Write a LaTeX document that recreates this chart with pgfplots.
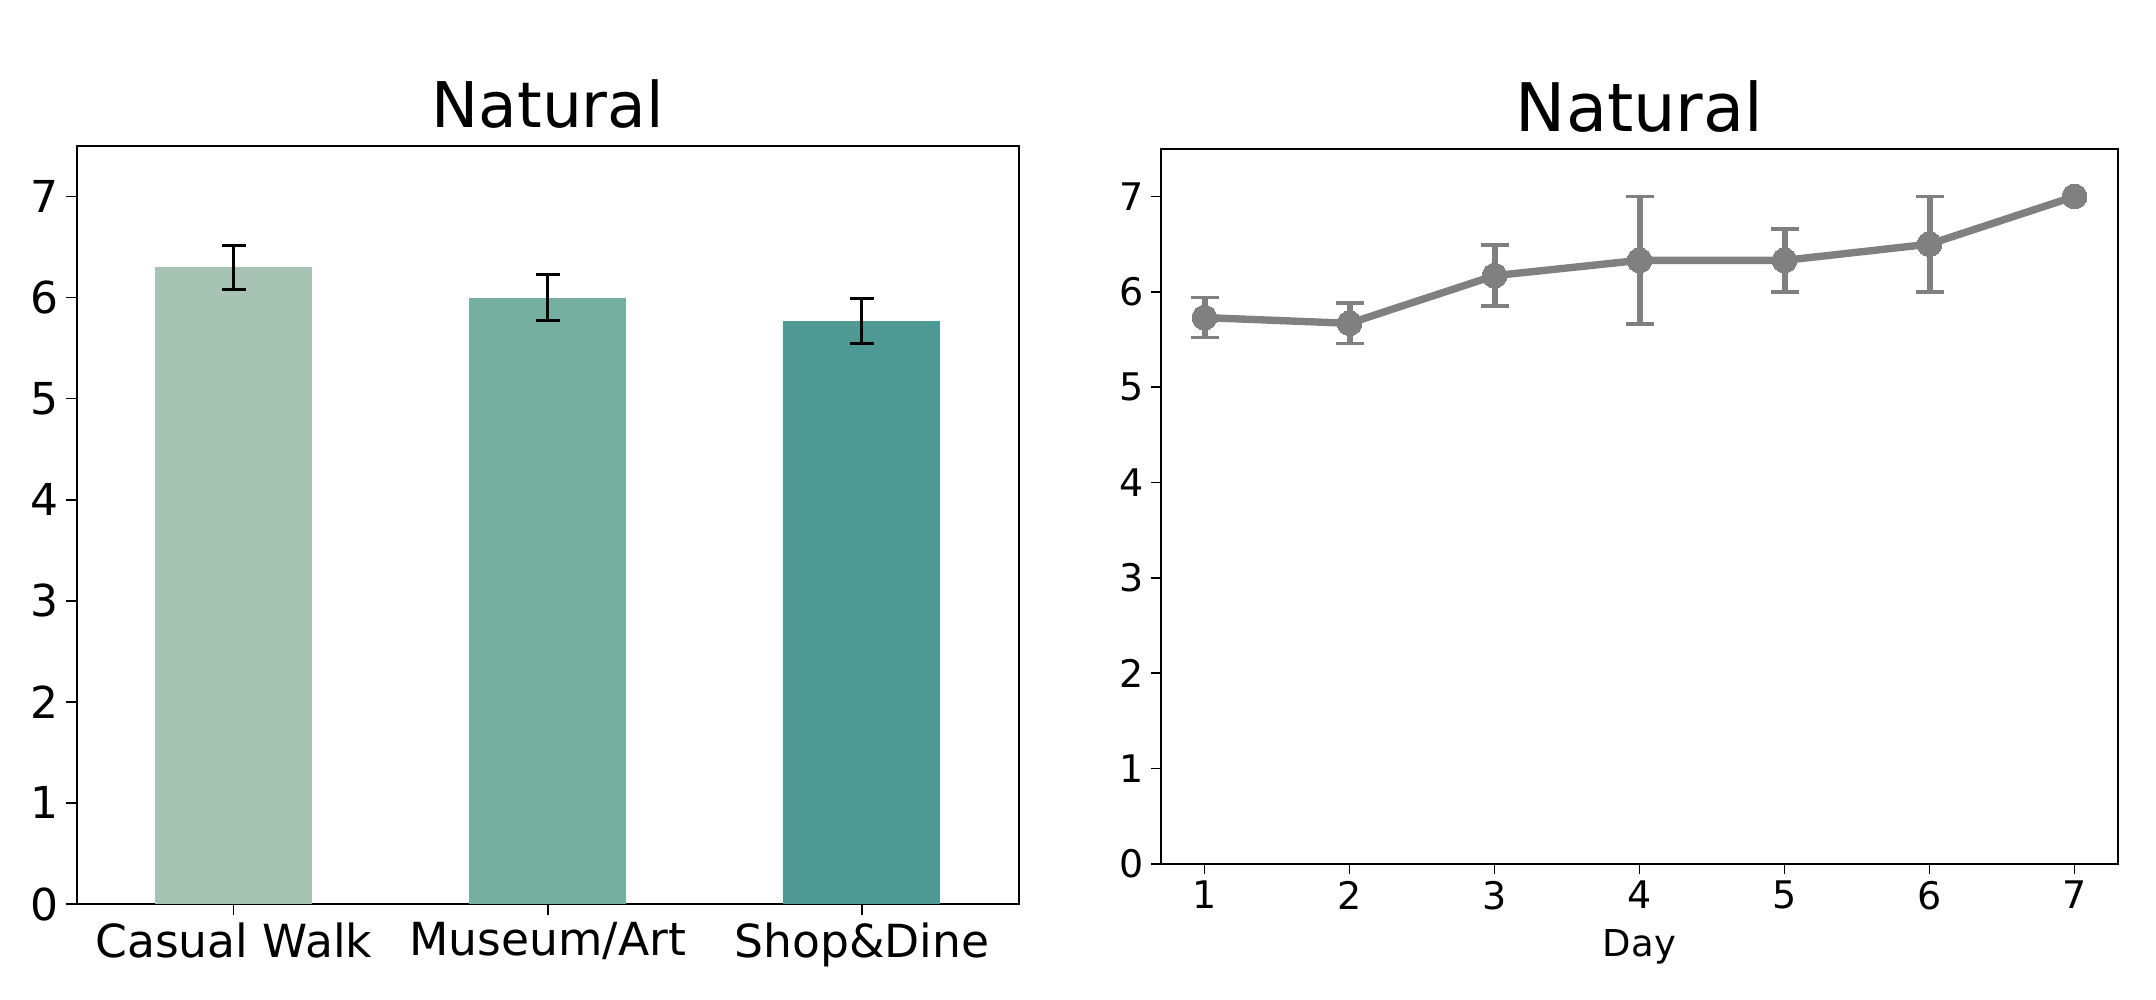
\documentclass[border=0pt]{standalone}
\usepackage{fontspec}
\setmainfont{DejaVu Sans}
\usepackage{pgfplots}
\pgfplotsset{compat=1.18}
\definecolor{c1}{HTML}{A7C3B4}
\definecolor{c2}{HTML}{74AF9F}
\definecolor{c3}{HTML}{4F9994}
\definecolor{lg}{HTML}{808080}
\begin{document}
\begin{tikzpicture}
\useasboundingbox (0,0) rectangle (1078pt,500pt);
\begin{axis}[
  at={(38.3pt,48pt)}, anchor=south west,
  scale only axis, width=471.2pt, height=379pt,
  xmin=-0.5, xmax=2.5, ymin=0, ymax=7.5,
  xtick={0,1,2}, xticklabels={Casual Walk, Museum/Art, Shop\&Dine},
  ytick={0,1,2,3,4,5,6,7},
  xtick pos=left, ytick pos=left,
  tick align=outside, major tick length=5.3pt,
  tick style={black, line width=0.8pt},
  axis line style={line width=1pt},
  ticklabel style={font=\fontsize{22}{26}\selectfont},
  xticklabel style={font=\fontsize{22.8}{27}\selectfont, yshift=-0.5pt},
  /pgf/number format/assume math mode=true,
  title={Natural},
  title style={font=\fontsize{31.5}{36}\selectfont, at={(0.5,1)}, anchor=base, yshift=3pt},
]
\addplot[ybar, bar width=0.5, fill=c1, draw=none, bar shift=0pt,
  error bars/.cd, y dir=both, y explicit,
  error bar style={black, line width=1.5pt},
  error mark options={black, line width=1.5pt, mark size=6pt, rotate=90}]
  coordinates {(0,6.30) +- (0,0.22)};
\addplot[ybar, bar width=0.5, fill=c2, draw=none, bar shift=0pt,
  error bars/.cd, y dir=both, y explicit,
  error bar style={black, line width=1.5pt},
  error mark options={black, line width=1.5pt, mark size=6pt, rotate=90}]
  coordinates {(1,6.00) +- (0,0.23)};
\addplot[ybar, bar width=0.5, fill=c3, draw=none, bar shift=0pt,
  error bars/.cd, y dir=both, y explicit,
  error bar style={black, line width=1.5pt},
  error mark options={black, line width=1.5pt, mark size=6pt, rotate=90}]
  coordinates {(2,5.77) +- (0,0.22)};
\end{axis}
\begin{axis}[
  at={(580.5pt,68pt)}, anchor=south west,
  scale only axis, width=478.5pt, height=357.6pt,
  xmin=0.7, xmax=7.3, ymin=0, ymax=7.5,
  xtick={1,2,3,4,5,6,7},
  ytick={0,1,2,3,4,5,6,7},
  xtick pos=left, ytick pos=left,
  tick align=outside, major tick length=5pt,
  tick style={black, line width=0.8pt},
  axis line style={line width=1pt},
  ticklabel style={font=\fontsize{19}{23}\selectfont},
  /pgf/number format/assume math mode=true,
  xlabel={Day},
  xlabel style={font=\fontsize{18.5}{22}\selectfont, at={(0.5,0)}, anchor=center, yshift=-41.5pt},
  title={Natural},
  title style={font=\fontsize{33.5}{38}\selectfont, at={(0.5,1)}, anchor=base, yshift=2.5pt},
]
\addplot[draw=none, mark=none,
  error bars/.cd, y dir=both, y explicit,
  error bar style={lg, line width=3pt},
  error mark options={lg, line width=1.8pt, mark size=7pt, rotate=90}]
  coordinates {(1,5.73) +- (0,0.21) (2,5.67) +- (0,0.21) (3,6.17) +- (0,0.32)
               (4,6.33) +- (0,0.67) (5,6.33) +- (0,0.33) (6,6.50) +- (0,0.50)};
\addplot[lg, line width=3.7pt, mark=*, mark size=6.2pt, mark options={lg, fill=lg, line width=0pt}]
  coordinates {(1,5.73) (2,5.67) (3,6.17) (4,6.33) (5,6.33) (6,6.50) (7,7.00)};
\end{axis}
\end{tikzpicture}
\end{document}
